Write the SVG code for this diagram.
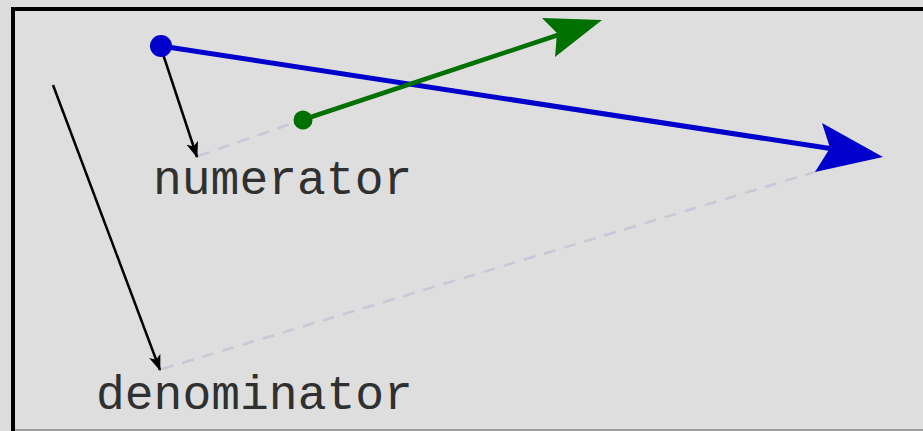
<svg xmlns="http://www.w3.org/2000/svg" width="923" height="431" viewBox="0 0 923 431">
<style>
.lbl{font-family:"Liberation Mono","Courier New",monospace;font-size:48px;fill:#303030}
.dash{stroke:#c8c8d6;stroke-width:2.5;stroke-dasharray:12,9;fill:none}
.blk{stroke:#000;stroke-width:2.5;fill:none}
</style>
<defs>
<marker id="ah" viewBox="0 0 16 12" refX="15" refY="6" markerWidth="16" markerHeight="12" markerUnits="userSpaceOnUse" orient="auto">
<path d="M0,0 L16,6 L0,12 L4,6 Z" fill="#000"/>
</marker>
</defs>
<rect x="0" y="0" width="923" height="431" fill="#dddddd"/>
<rect x="11" y="7" width="1000" height="500" fill="#000"/>
<rect x="15" y="11" width="1000" height="500" fill="#dedede"/>
<line x1="15" y1="430" x2="923" y2="430" stroke="#888" stroke-width="1.5"/>
<g id="connectors">
<line class="dash" x1="198" y1="156" x2="302" y2="120"/>
<line class="dash" x1="162" y1="369" x2="818" y2="171"/>
<line class="blk" x1="161" y1="48" x2="197" y2="157" marker-end="url(#ah)"/>
<line class="blk" x1="53" y1="85" x2="160" y2="370" marker-end="url(#ah)"/>
</g>
<g id="blue-vector">
<line x1="161" y1="46" x2="840" y2="150" stroke="#0000cc" stroke-width="5"/>
<polygon points="883,157 822,123 830,148 815,172" fill="#0000cc"/>
<circle cx="161" cy="46" r="11" fill="#0000cc"/>
</g>
<g id="green-vector">
<line x1="302" y1="120" x2="570" y2="31" stroke="#007000" stroke-width="4.5"/>
<polygon points="602,20 542,18 557,33 555,57" fill="#007000"/>
<circle cx="303" cy="120" r="9.5" fill="#007000"/>
</g>
<g id="numerator"><text class="lbl" x="153" y="194">numerator</text></g>
<g id="denominator"><text class="lbl" x="96" y="409">denominator</text></g>
</svg>
